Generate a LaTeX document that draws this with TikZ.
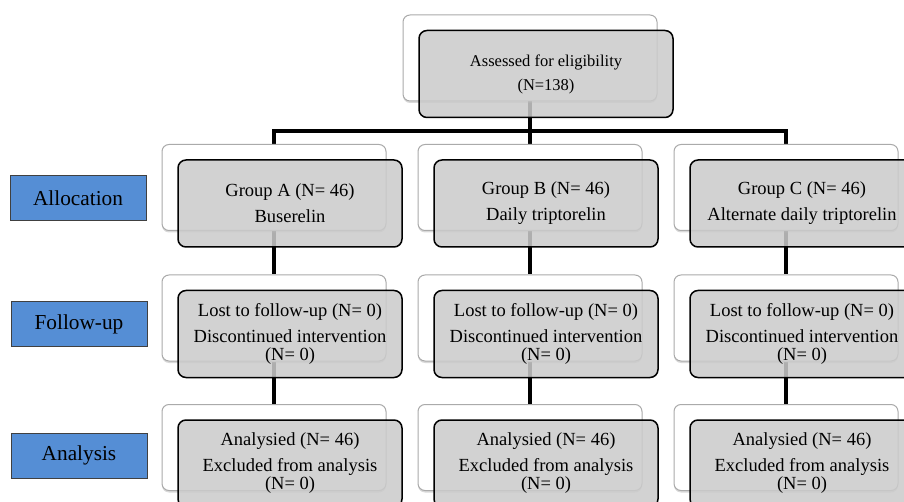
\documentclass[tikz,border=0pt]{standalone}
\usepackage{fontspec}
\setmainfont{Liberation Serif}
\usetikzlibrary{shadows,backgrounds}
\definecolor{stageblue}{RGB}{85,142,213}
\definecolor{boxgrey}{RGB}{203,203,203}
\definecolor{backline}{RGB}{170,170,170}

\begin{document}
\begin{tikzpicture}[x=1pt,y=-1pt,
    back/.style={draw=backline, line width=1pt, fill=white, rounded corners=7pt,
      minimum width=224pt, minimum height=86pt, inner sep=0pt,
      drop shadow={shadow xshift=0pt, shadow yshift=-2pt, opacity=0.3}},
    front/.style={draw=black, line width=1.5pt, fill=boxgrey, fill opacity=0.86,
      text opacity=1, rounded corners=8pt, minimum width=224pt, minimum height=87pt,
      inner sep=0pt, align=center, font=\fontsize{18.5}{26}\selectfont},
    stage/.style={draw=black!75, line width=1pt, fill=stageblue, minimum width=136pt,
      minimum height=45pt, inner sep=0pt, font=\fontsize{21.3}{24}\selectfont},
    link/.style={line width=3.5pt}]
      \useasboundingbox (0,0) rectangle (904,502);
      \clip (0,0) rectangle (904,502);

      % Stage labels
      \node[stage] (alloc) at (78,198.5) {Allocation};
      \node[stage] (fup) at (79,324) {Follow-up};
      \node[stage] (ana) at (79,455.5) {Analysis};

      % Back boxes
      \node[back, minimum width=254pt] (elig) at (530,58) {};
      \node[back] (grpA) at (274,187.5) {};
      \node[back] (grpB) at (530,187.5) {};
      \node[back] (grpC) at (786,187.5) {};
      \node[back] (fupA) at (274,318) {};
      \node[back] (fupB) at (530,318) {};
      \node[back] (fupC) at (786,318) {};
      \node[back] (anaA) at (274,447.5) {};
      \node[back] (anaB) at (530,447.5) {};
      \node[back] (anaC) at (786,447.5) {};

      % Front boxes with the texts
      \node[front, minimum width=254pt, font=\fontsize{16.5}{24}\selectfont] (eligT)
        at ([shift={(16,16)}]elig.center) {Assessed for eligibility\\(N=138)};
      \node[front] (grpAT) at ([shift={(16,16)}]grpA.center) {Group A (N= 46)\\Buserelin};
      \node[front] (grpBT) at ([shift={(16,16)}]grpB.center) {Group B (N= 46)\\Daily triptorelin};
      \node[front] (grpCT) at ([shift={(16,16)}]grpC.center) {Group C (N= 46)\\Alternate daily triptorelin};
      \foreach \g in {A,B,C} {
        \node[front] (fup\g T) at ([shift={(16,16)}]fup\g.center)
          {Lost to follow-up (N= 0)\\Discontinued intervention\\[-8pt](N= 0)};
        \node[front] (ana\g T) at ([shift={(16,16)}]ana\g.center)
          {Analysied (N= 46)\\Excluded from analysis\\[-8pt](N= 0)};
      }

      % Connectors
      \begin{scope}[on background layer]
        \coordinate (bus) at (530,131);
        \draw[link] (elig.south) -- (grpB.north);
        \draw[link] (grpA.north) |- (bus) -| (grpC.north);
        \foreach \g in {A,B,C} {
          \draw[link] (grp\g.south) -- (fup\g.north);
          \draw[link] (fup\g.south) -- (ana\g.north);
        }
      \end{scope}
    \end{tikzpicture}
\end{document}
